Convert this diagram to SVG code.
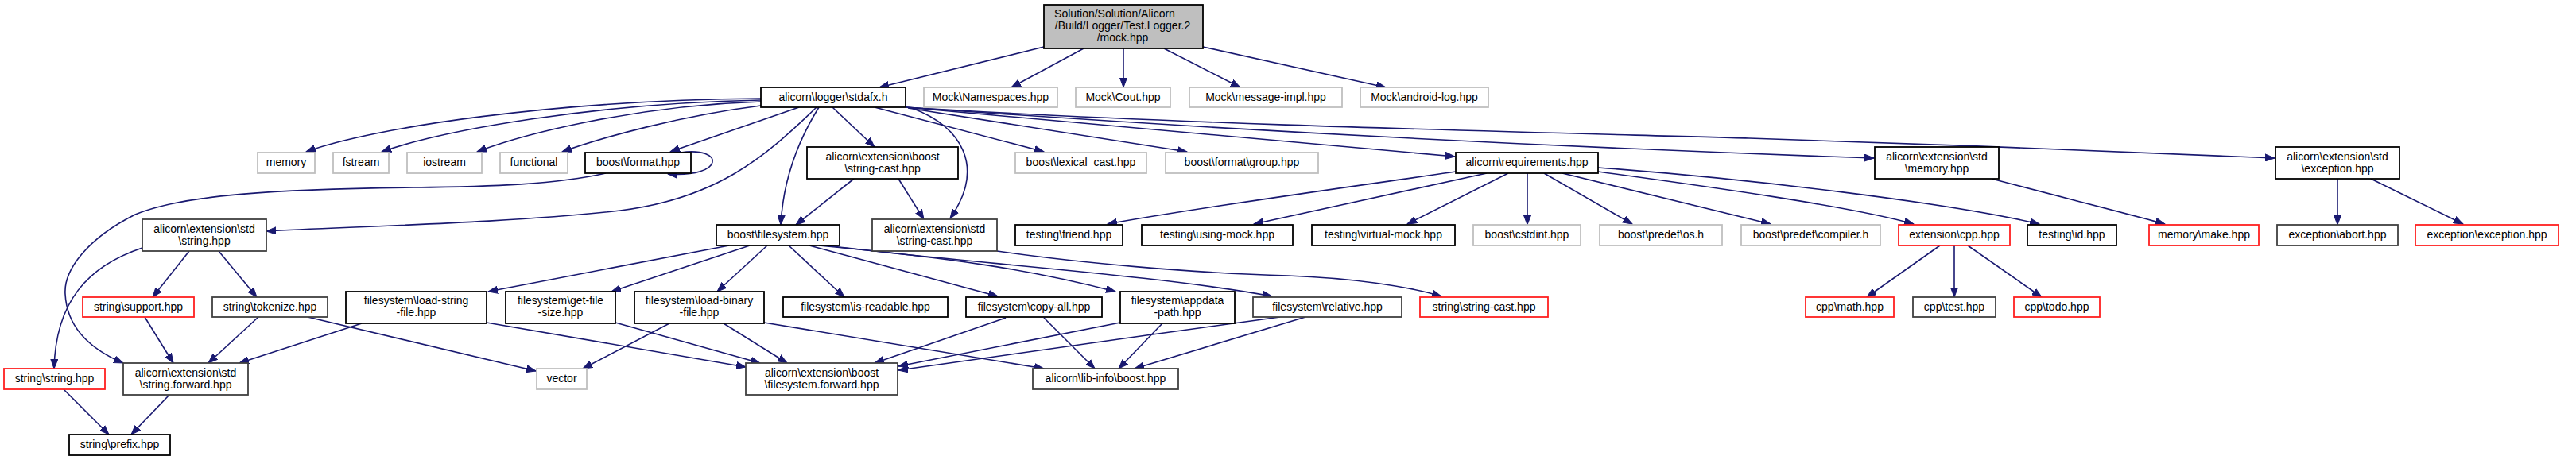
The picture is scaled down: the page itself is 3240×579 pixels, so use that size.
<svg xmlns="http://www.w3.org/2000/svg" width="3240" height="579" viewBox="0 0 3240 579">
<style>
rect{fill:#fff;stroke-width:1.8}
.b{stroke:#000}
.d{stroke:#404040}
.g{stroke:#bfbfbf}
.r{stroke:#ff2020}
.root{fill:#bfbfbf;stroke:#000}
text{font-family:"Liberation Sans",Arial,sans-serif;font-size:14px;fill:#000;text-anchor:middle}
#edges path{fill:none;stroke:#191970;stroke-width:1.6;marker-end:url(#a)}
</style>
<defs>
<marker id="a" markerUnits="userSpaceOnUse" markerWidth="13" markerHeight="10" refX="12" refY="5" orient="auto">
<path d="M0,0.5 L12,5 L0,9.5 z" fill="#191970" stroke="#191970" stroke-width="1"/>
</marker>
</defs>
<g id="edges">
<path d="M1313,59 L1106,110"/>
<path d="M1363,61 L1272,110"/>
<path d="M1413,61 L1413,110"/>
<path d="M1464,61 L1560,110"/>
<path d="M1513,59 L1743,110"/>
<path d="M957,124 C700,126 470,160 385,191"/>
<path d="M957,126 C750,130 560,163 480,191"/>
<path d="M957,128 C800,133 660,168 600,191"/>
<path d="M957,133 C860,145 760,172 707,191"/>
<path d="M1005,135 L843,191"/>
<path d="M1030,135 C1005,175 985,225 982,283"/>
<path d="M1027,135 C960,200 900,250 780,265 C650,280 450,285 335,291"/>
<path d="M1047,135 L1100,185"/>
<path d="M1147,136 C1210,160 1240,210 1195,275"/>
<path d="M1100,135 L1313,191"/>
<path d="M1142,136 L1493,191"/>
<path d="M1139,135 L1830,197"/>
<path d="M1139,135 C1350,150 1800,180 2357,199"/>
<path d="M1139,135 C1500,158 2000,168 2200,174 S2700,192 2861,199"/>
<path d="M856,192 C912,184 912,224 840,219"/>
<path d="M762,218 C700,232 620,235 520,236 C350,238 230,245 170,270 C110,300 80,340 82,370 C84,410 110,438 155,457"/>
<path d="M1831,216 C1700,235 1500,262 1393,282"/>
<path d="M1870,218 L1577,282"/>
<path d="M1897,218 L1770,282"/>
<path d="M1921,218 L1921,283"/>
<path d="M1942,218 L2053,282"/>
<path d="M1965,218 L2227,282"/>
<path d="M2010,216 C2150,235 2330,260 2407,282"/>
<path d="M2010,211 C2200,225 2450,255 2565,282"/>
<path d="M2505,225 C2600,250 2680,270 2723,282"/>
<path d="M2940,225 L2940,283"/>
<path d="M2982,225 L3098,282"/>
<path d="M1074,225 L1001,283"/>
<path d="M1130,225 L1162,276"/>
<path d="M1254,316 C1350,330 1500,344 1620,347 C1700,350 1770,360 1813,373"/>
<path d="M917,309 L614,367"/>
<path d="M943,309 L769,367"/>
<path d="M965,309 L902,367"/>
<path d="M992,309 L1062,374"/>
<path d="M1018,309 L1255,373"/>
<path d="M1030,309 C1200,325 1300,340 1403,367"/>
<path d="M1040,309 C1200,330 1450,345 1600,373"/>
<path d="M238,316 L192,374"/>
<path d="M275,316 L323,374"/>
<path d="M179,312 C110,335 70,380 68,464"/>
<path d="M182,399 L218,457"/>
<path d="M325,399 L262,457"/>
<path d="M387,399 L674,467"/>
<path d="M455,407 L301,457"/>
<path d="M612,406 L938,462"/>
<path d="M774,406 L956,457"/>
<path d="M842,407 L733,464"/>
<path d="M910,407 L990,457"/>
<path d="M961,406 L1313,464"/>
<path d="M1265,400 L1100,457"/>
<path d="M1313,400 L1377,464"/>
<path d="M1409,406 L1130,461"/>
<path d="M1462,407 L1407,464"/>
<path d="M1610,399 C1450,420 1250,450 1130,466"/>
<path d="M1642,399 L1427,464"/>
<path d="M80,490 L137,547"/>
<path d="M213,497 L165,547"/>
<path d="M2440,309 L2348,374"/>
<path d="M2458,309 L2458,374"/>
<path d="M2475,309 L2568,374"/>
</g>
<g id="n_root"><rect class="root" x="1313" y="6" width="200" height="55"/><text x="1402" y="22">Solution/Solution/Alicorn</text><text x="1412" y="37">/Build/Logger/Test.Logger.2</text><text x="1412" y="52">/mock.hpp</text></g>
<g id="n_stdafx"><rect class="b" x="957" y="110" width="182" height="25"/><text x="1048" y="127">alicorn\logger\stdafx.h</text></g>
<g id="n_namespaces"><rect class="g" x="1162" y="110" width="168" height="25"/><text x="1246" y="127">Mock\Namespaces.hpp</text></g>
<g id="n_cout"><rect class="g" x="1353" y="110" width="119" height="25"/><text x="1412.5" y="127">Mock\Cout.hpp</text></g>
<g id="n_msgimpl"><rect class="g" x="1496" y="110" width="192" height="25"/><text x="1592" y="127">Mock\message-impl.hpp</text></g>
<g id="n_android"><rect class="g" x="1711" y="110" width="161" height="25"/><text x="1791.5" y="127">Mock\android-log.hpp</text></g>
<g id="n_memory"><rect class="g" x="324" y="192" width="72" height="26"/><text x="360" y="209">memory</text></g>
<g id="n_fstream"><rect class="g" x="419" y="192" width="70" height="26"/><text x="454" y="209">fstream</text></g>
<g id="n_iostream"><rect class="g" x="512" y="192" width="94" height="26"/><text x="559" y="209">iostream</text></g>
<g id="n_functional"><rect class="g" x="629" y="192" width="85" height="26"/><text x="671.5" y="209">functional</text></g>
<g id="n_format"><rect class="b" x="736" y="192" width="133" height="26"/><text x="802.5" y="209">boost\format.hpp</text></g>
<g id="n_bstrcast"><rect class="b" x="1015" y="185" width="190" height="40"/><text x="1110" y="201.5">alicorn\extension\boost</text><text x="1110" y="216.5">\string-cast.hpp</text></g>
<g id="n_lexical"><rect class="g" x="1277" y="192" width="165" height="26"/><text x="1359.5" y="209">boost\lexical_cast.hpp</text></g>
<g id="n_group"><rect class="g" x="1466" y="192" width="192" height="26"/><text x="1562" y="209">boost\format\group.hpp</text></g>
<g id="n_req"><rect class="b" x="1831" y="192" width="179" height="26"/><text x="1920.5" y="209">alicorn\requirements.hpp</text></g>
<g id="n_stdmemory"><rect class="b" x="2358" y="185" width="156" height="40"/><text x="2436" y="201.5">alicorn\extension\std</text><text x="2436" y="216.5">\memory.hpp</text></g>
<g id="n_stdexc"><rect class="b" x="2862" y="185" width="156" height="40"/><text x="2940" y="201.5">alicorn\extension\std</text><text x="2940" y="216.5">\exception.hpp</text></g>
<g id="n_stdstring"><rect class="d" x="179" y="276" width="156" height="40"/><text x="257" y="292.5">alicorn\extension\std</text><text x="257" y="307.5">\string.hpp</text></g>
<g id="n_filesystem"><rect class="b" x="901" y="283" width="155" height="26"/><text x="978.5" y="300">boost\filesystem.hpp</text></g>
<g id="n_sstrcast"><rect class="d" x="1097" y="276" width="157" height="40"/><text x="1175.5" y="292.5">alicorn\extension\std</text><text x="1175.5" y="307.5">\string-cast.hpp</text></g>
<g id="n_friend"><rect class="b" x="1277" y="283" width="135" height="26"/><text x="1344.5" y="300">testing\friend.hpp</text></g>
<g id="n_usingmock"><rect class="b" x="1436" y="283" width="190" height="26"/><text x="1531" y="300">testing\using-mock.hpp</text></g>
<g id="n_virtmock"><rect class="b" x="1650" y="283" width="180" height="26"/><text x="1740" y="300">testing\virtual-mock.hpp</text></g>
<g id="n_cstdint"><rect class="g" x="1853" y="283" width="135" height="26"/><text x="1920.5" y="300">boost\cstdint.hpp</text></g>
<g id="n_os"><rect class="g" x="2012" y="283" width="154" height="26"/><text x="2089" y="300">boost\predef\os.h</text></g>
<g id="n_compiler"><rect class="g" x="2190" y="283" width="175" height="26"/><text x="2277.5" y="300">boost\predef\compiler.h</text></g>
<g id="n_cpp"><rect class="r" x="2388" y="283" width="140" height="26"/><text x="2458" y="300">extension\cpp.hpp</text></g>
<g id="n_id"><rect class="b" x="2550" y="283" width="112" height="26"/><text x="2606" y="300">testing\id.hpp</text></g>
<g id="n_make"><rect class="r" x="2703" y="283" width="138" height="26"/><text x="2772" y="300">memory\make.hpp</text></g>
<g id="n_abort"><rect class="d" x="2864" y="283" width="152" height="26"/><text x="2940" y="300">exception\abort.hpp</text></g>
<g id="n_exception"><rect class="r" x="3038" y="283" width="180" height="26"/><text x="3128" y="300">exception\exception.hpp</text></g>
<g id="n_support"><rect class="r" x="104" y="374" width="140" height="25"/><text x="174" y="391">string\support.hpp</text></g>
<g id="n_tokenize"><rect class="d" x="267" y="374" width="145" height="25"/><text x="339.5" y="391">string\tokenize.hpp</text></g>
<g id="n_loadstring"><rect class="b" x="435" y="367" width="177" height="40"/><text x="523.5" y="383">filesystem\load-string</text><text x="523.5" y="398">-file.hpp</text></g>
<g id="n_getfilesize"><rect class="b" x="636" y="367" width="138" height="40"/><text x="705" y="383">filesystem\get-file</text><text x="705" y="398">-size.hpp</text></g>
<g id="n_loadbinary"><rect class="b" x="798" y="367" width="163" height="40"/><text x="879.5" y="383">filesystem\load-binary</text><text x="879.5" y="398">-file.hpp</text></g>
<g id="n_isreadable"><rect class="b" x="985" y="374" width="207" height="25"/><text x="1088.5" y="391">filesystem\is-readable.hpp</text></g>
<g id="n_copyall"><rect class="b" x="1215" y="374" width="171" height="25"/><text x="1300.5" y="391">filesystem\copy-all.hpp</text></g>
<g id="n_appdata"><rect class="b" x="1409" y="367" width="144" height="40"/><text x="1481" y="383">filesystem\appdata</text><text x="1481" y="398">-path.hpp</text></g>
<g id="n_relative"><rect class="d" x="1576" y="374" width="187" height="25"/><text x="1669.5" y="391">filesystem\relative.hpp</text></g>
<g id="n_strstrcast"><rect class="r" x="1786" y="374" width="161" height="25"/><text x="1866.5" y="391">string\string-cast.hpp</text></g>
<g id="n_math"><rect class="r" x="2271" y="374" width="111" height="25"/><text x="2326.5" y="391">cpp\math.hpp</text></g>
<g id="n_test"><rect class="d" x="2406" y="374" width="104" height="25"/><text x="2458" y="391">cpp\test.hpp</text></g>
<g id="n_todo"><rect class="r" x="2533" y="374" width="108" height="25"/><text x="2587" y="391">cpp\todo.hpp</text></g>
<g id="n_strstring"><rect class="r" x="5" y="464" width="127" height="26"/><text x="68.5" y="481">string\string.hpp</text></g>
<g id="n_strforward"><rect class="d" x="155" y="457" width="157" height="40"/><text x="233.5" y="473.5">alicorn\extension\std</text><text x="233.5" y="488.5">\string.forward.hpp</text></g>
<g id="n_vector"><rect class="g" x="675" y="464" width="63" height="26"/><text x="706.5" y="481">vector</text></g>
<g id="n_fsforward"><rect class="d" x="938" y="457" width="191" height="40"/><text x="1033.5" y="473.5">alicorn\extension\boost</text><text x="1033.5" y="488.5">\filesystem.forward.hpp</text></g>
<g id="n_libinfo"><rect class="d" x="1299" y="464" width="183" height="26"/><text x="1390.5" y="481">alicorn\lib-info\boost.hpp</text></g>
<g id="n_prefix"><rect class="b" x="87" y="547" width="127" height="26"/><text x="150.5" y="564">string\prefix.hpp</text></g>
</svg>
